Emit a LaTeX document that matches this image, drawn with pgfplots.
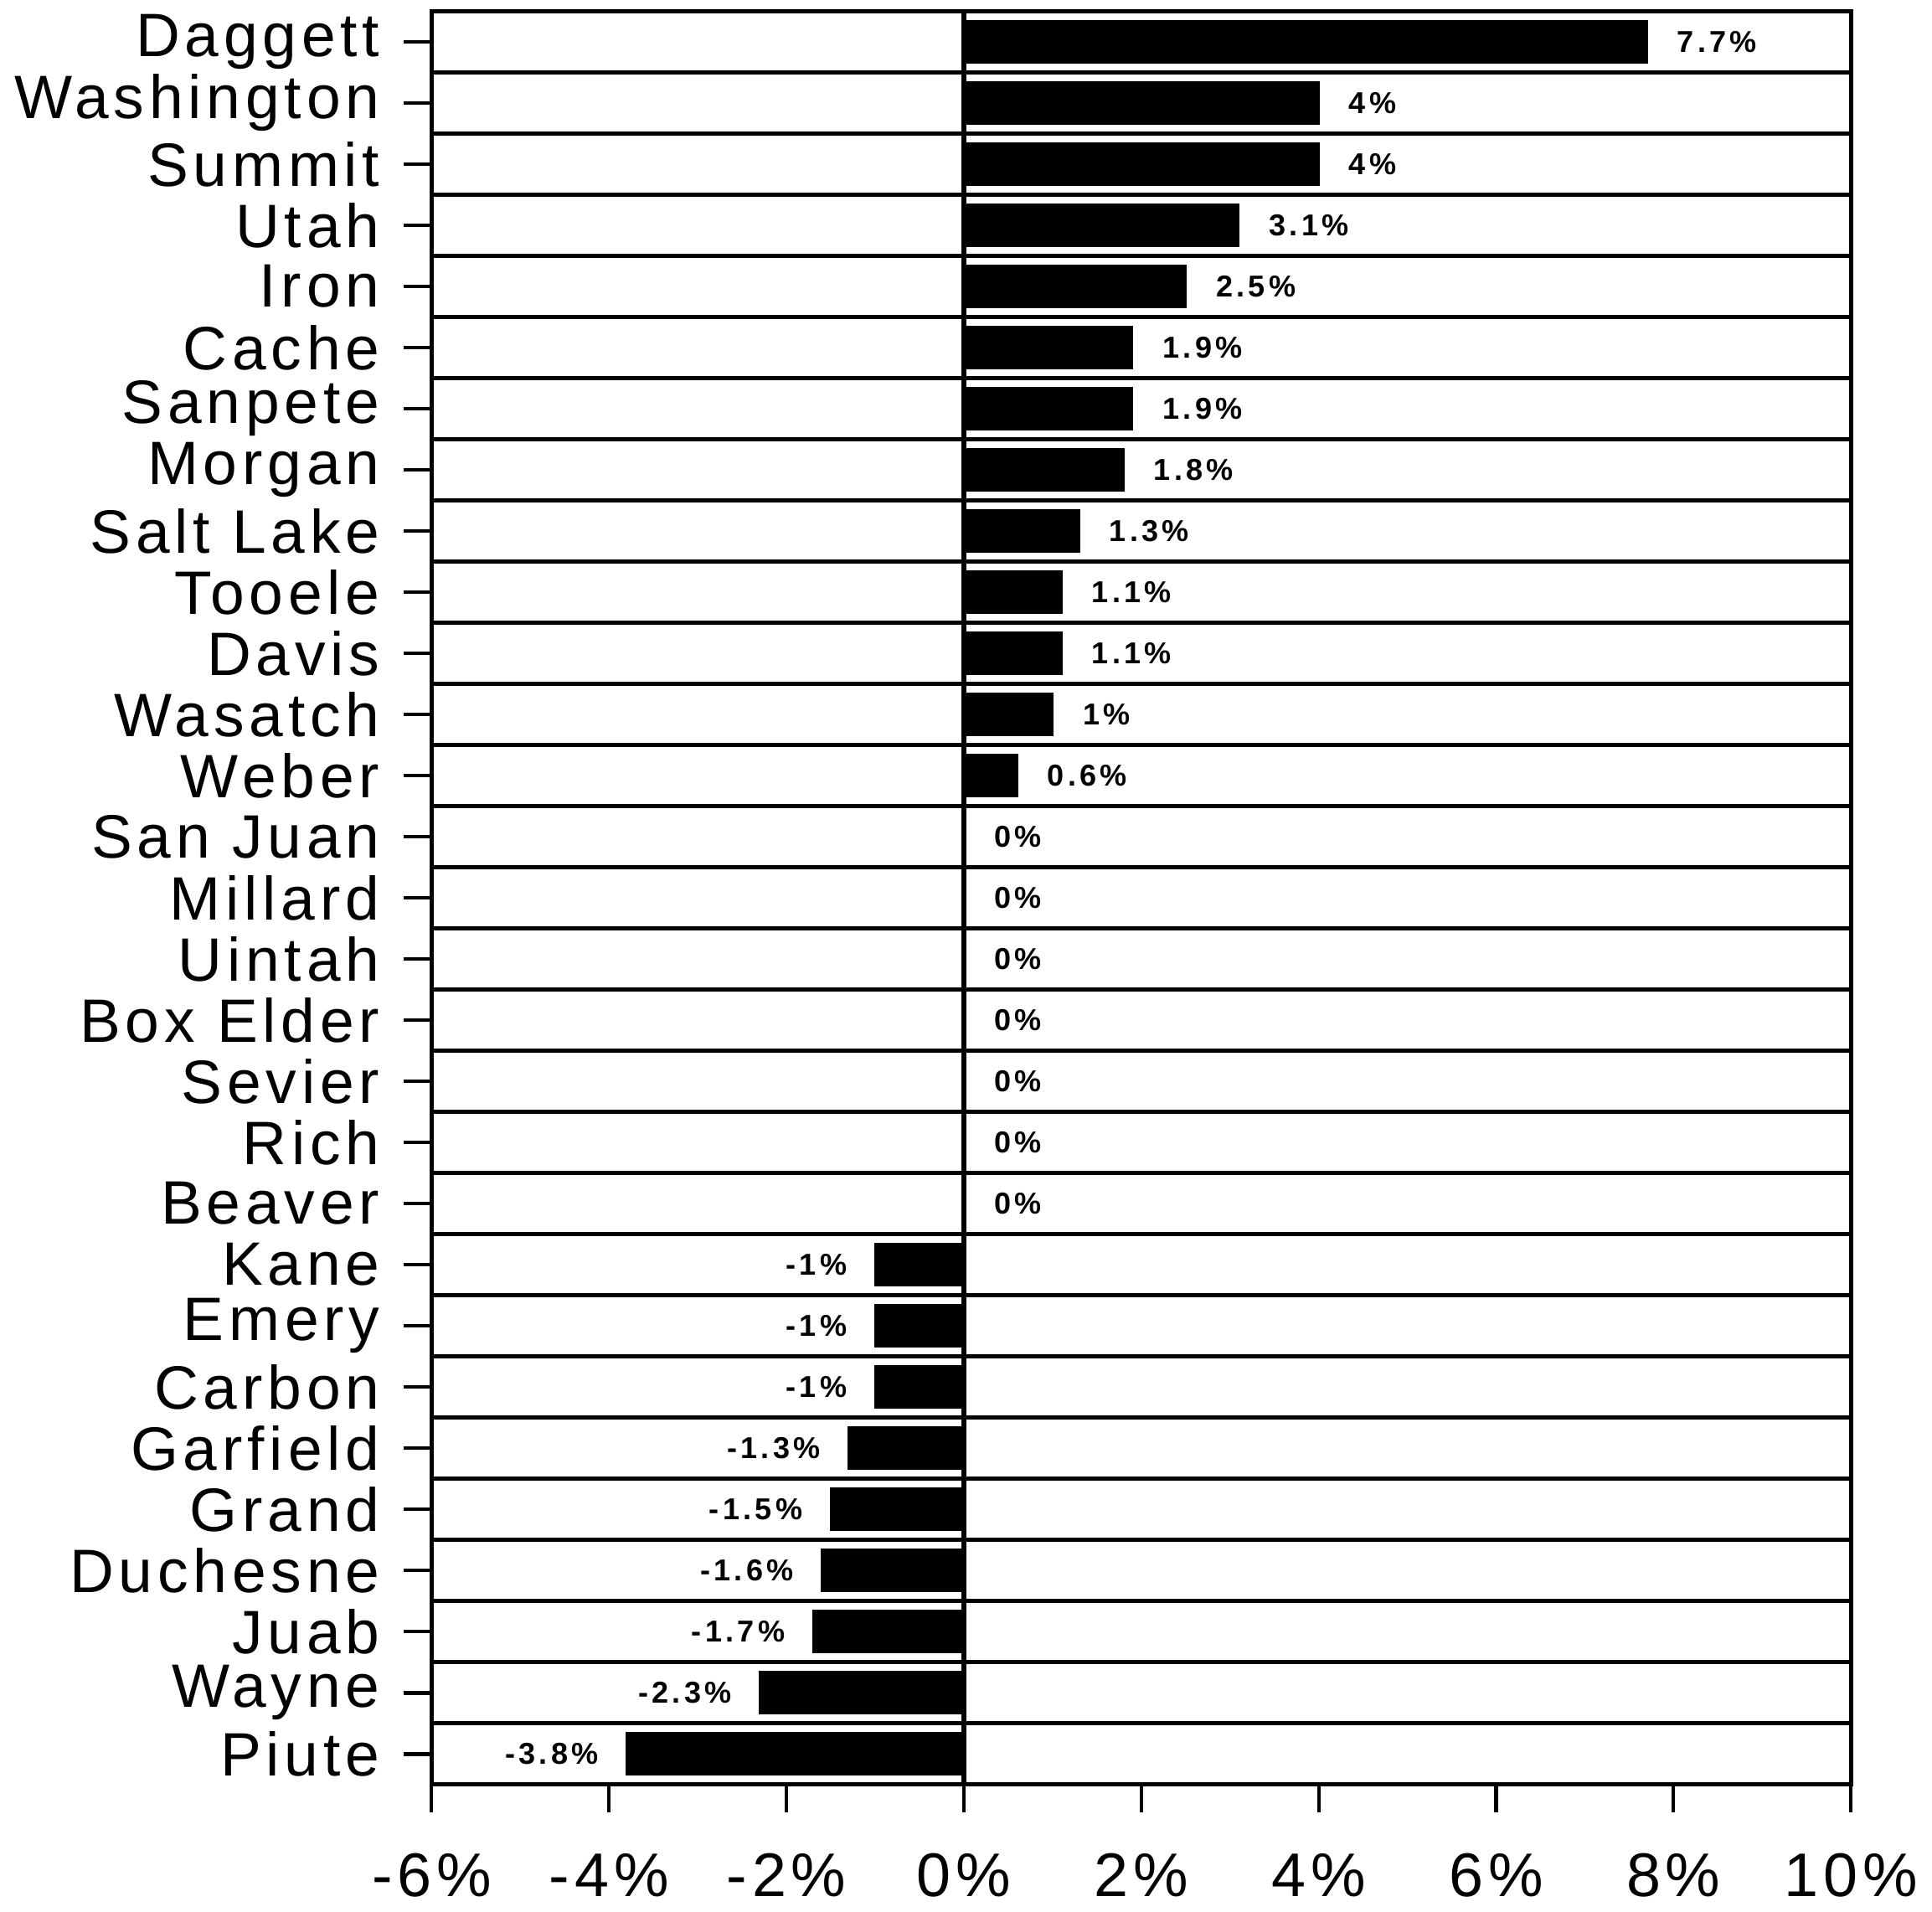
\documentclass[border=0pt]{standalone}
\usepackage{fontspec}
\setmainfont{Liberation Sans}[LetterSpace=8]
\newfontfamily\lblfont{Liberation Sans}[LetterSpace=12]
\usepackage{pgfplots}
\pgfplotsset{compat=1.18}
\usepackage{pgfplotstable}
\pgfplotstableread{
y x
0 7.7
1 4
2 4
3 3.1
4 2.5
5 1.9
6 1.9
7 1.8
8 1.3
9 1.1
10 1.1
11 1
12 0.6
13 0
14 0
15 0
16 0
17 0
18 0
19 0
}\pos
\pgfplotstableread{
y x
20 -1
21 -1
22 -1
23 -1.3
24 -1.5
25 -1.6
26 -1.7
27 -2.3
28 -3.8
}\neg
\begin{document}
\begin{tikzpicture}
\begin{axis}[
  scale only axis,
  width=329pt, height=411pt,
  xmin=-6, xmax=10,
  ymin=-0.5, ymax=28.5,
  y dir=reverse,
  xbar, bar width=0.68, bar shift=0pt,
  axis line style={line width=0.9pt},
  xtick={-6,-4,-2,0,2,4,6,8,10},
  xticklabels={-6\%,-4\%,-2\%,0\%,2\%,4\%,6\%,8\%,10\%},
  xtick pos=bottom,
  ytick={0,...,28},
  yticklabels={Daggett,Washington,Summit,Utah,Iron,Cache,Sanpete,Morgan,Salt Lake,Tooele,Davis,Wasatch,Weber,San Juan,Millard,Uintah,Box Elder,Sevier,Rich,Beaver,Kane,Emery,Carbon,Garfield,Grand,Duchesne,Juab,Wayne,Piute},
  ytick pos=left,
  tick align=outside,
  major tick length=6.5pt,
  x tick style={black, line width=0.8pt},
  y tick style={black, line width=0.9pt},
  minor ytick={0.5,1.5,...,27.5},
  minor tick length=0pt,
  yminorgrids,
  minor grid style={black, line width=1pt},
  extra x ticks={0},
  extra x tick labels={},
  extra x tick style={grid=major, major grid style={black, line width=1pt}},
  x tick label style={font=\fontsize{14.3}{16}\selectfont, yshift=-6pt},
  y tick label style={font=\fontsize{14.2}{16}\selectfont, xshift=-2pt},
  /pgf/number format/assume math mode=true,
  nodes near coords={\pgfmathprintnumber{\pgfplotspointmeta}\%},
  every node near coord/.append style={font=\lblfont\bfseries\fontsize{7}{8}\selectfont},
  clip=false,
]
\addplot[fill=black, draw=black, nodes near coords style={anchor=west, xshift=3.5pt}] table[x=x, y=y] {\pos};
\addplot[fill=black, draw=black, nodes near coords style={anchor=east, xshift=-3pt}] table[x=x, y=y] {\neg};
\end{axis}
\end{tikzpicture}
\end{document}
